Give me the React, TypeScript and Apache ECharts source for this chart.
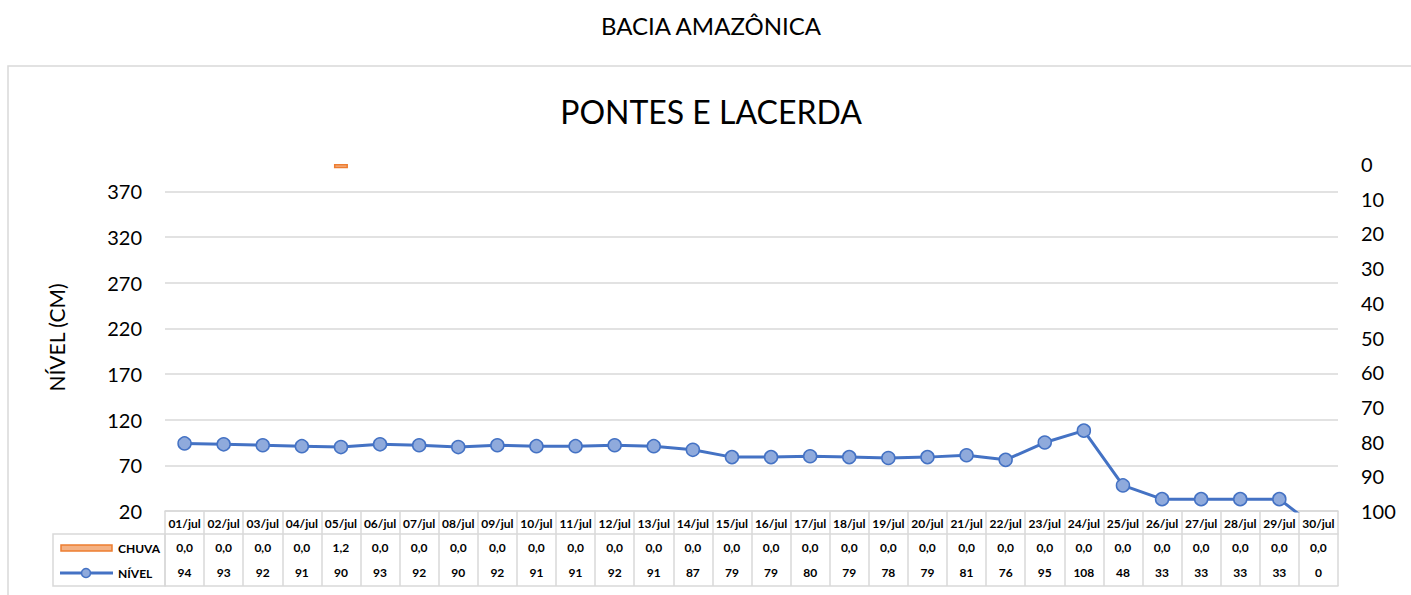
import React, { useEffect, useRef } from "react";
import * as echarts from "echarts";

const dates = [
  "01/jul", "02/jul", "03/jul", "04/jul", "05/jul", "06/jul", "07/jul", "08/jul", "09/jul", "10/jul",
  "11/jul", "12/jul", "13/jul", "14/jul", "15/jul", "16/jul", "17/jul", "18/jul", "19/jul", "20/jul",
  "21/jul", "22/jul", "23/jul", "24/jul", "25/jul", "26/jul", "27/jul", "28/jul", "29/jul", "30/jul",
];
const chuva = [0, 0, 0, 0, 1.2, 0, 0, 0, 0, 0, 0, 0, 0, 0, 0, 0, 0, 0, 0, 0, 0, 0, 0, 0, 0, 0, 0, 0, 0, 0];
const nivel = [94, 93, 92, 91, 90, 93, 92, 90, 92, 91, 91, 92, 91, 87, 79, 79, 80, 79, 78, 79, 81, 76, 95, 108, 48, 33, 33, 33, 33, 0];

const leftMin = 20;
const leftMax = 400;
const leftStep = 50;
const rightMin = 0;
const rightMax = 100;
const rightStep = 10;

const FONT = "Lato, 'Open Sans', sans-serif";
const GRID = "#D9D9D9";

const fmtChuva = (v: number) => v.toFixed(1).replace(".", ",");

export default function App() {
  const ref = useRef<HTMLDivElement>(null);
  useEffect(() => {
    if (!ref.current) return;
    const chart = echarts.init(ref.current, undefined, { renderer: "svg" });
    const tableLabel = {
      interval: 0,
      fontSize: 12,
      fontWeight: "bold" as const,
      color: "#000",
      fontFamily: FONT,
    };
    const baseX = {
      type: "category",
      data: dates,
      position: "bottom",
    };
    chart.setOption({
      animation: false,
      backgroundColor: "#fff",
      textStyle: { fontFamily: FONT },
      grid: { left: 165, right: 73, top: 164, bottom: 84, containLabel: false },
      xAxis: [
        {
          ...baseX,
          axisLine: { show: true, onZero: false, lineStyle: { color: GRID, width: 1.5 } },
          axisTick: { show: true, interval: 0, length: 75, alignWithLabel: false, lineStyle: { color: GRID, width: 1.5 } },
          axisLabel: { ...tableLabel, margin: 6 },
        },
        {
          ...baseX,
          offset: 23,
          axisLine: { show: true, onZero: false, lineStyle: { color: GRID, width: 1.5 } },
          axisTick: { show: false },
          axisLabel: { ...tableLabel, margin: 7, formatter: (_v: string, i: number) => fmtChuva(chuva[i]) },
        },
        {
          ...baseX,
          offset: 46,
          axisLine: { show: false, onZero: false },
          axisTick: { show: false },
          axisLabel: { ...tableLabel, margin: 9, formatter: (_v: string, i: number) => String(nivel[i]) },
        },
        {
          ...baseX,
          offset: 75,
          axisLine: { show: true, onZero: false, lineStyle: { color: GRID, width: 1.5 } },
          axisTick: { show: false },
          axisLabel: { show: false },
        },
      ],
      yAxis: [
        {
          type: "value",
          position: "left",
          min: leftMin,
          max: leftMax,
          interval: leftStep,
          name: "NÍVEL (CM)",
          nameLocation: "middle",
          nameGap: 98,
          nameTextStyle: { fontSize: 21, color: "#000", fontFamily: FONT },
          axisLine: { show: false },
          axisTick: { show: false },
          axisLabel: { margin: 23, fontSize: 20, color: "#000", fontFamily: FONT, showMaxLabel: false },
          splitLine: { show: true, showMaxLine: false, lineStyle: { color: GRID, width: 1.5 } },
        },
        {
          type: "value",
          position: "right",
          inverse: true,
          min: rightMin,
          max: rightMax,
          interval: rightStep,
          axisLine: { show: false },
          axisTick: { show: false },
          axisLabel: { margin: 23, fontSize: 20, color: "#000", fontFamily: FONT },
          splitLine: { show: false },
        },
      ],
      series: [
        {
          name: "CHUVA",
          type: "bar",
          xAxisIndex: 0,
          yAxisIndex: 1,
          data: chuva.map((v) => (v === 0 ? "-" : v)),
          barWidth: 14,
          itemStyle: { color: "#F4B183", borderColor: "#ED7D31", borderWidth: 1.5 },
        },
        {
          name: "NÍVEL",
          type: "line",
          xAxisIndex: 0,
          yAxisIndex: 0,
          data: nivel,
          clip: true,
          symbol: "circle",
          symbolSize: 13,
          lineStyle: { color: "#4472C4", width: 3 },
          itemStyle: { color: "#8FAADC", borderColor: "#4472C4", borderWidth: 1.5 },
        },
      ],
      graphic: [
        {
          type: "rect",
          shape: { x: 8, y: 66, width: 1420, height: 600 },
          style: { fill: "none", stroke: GRID, lineWidth: 1.5 },
          silent: true,
        },
        {
          type: "text",
          x: 711,
          y: 25,
          style: { text: "BACIA AMAZÔNICA", fontSize: 24, fontFamily: FONT, fill: "#000", textAlign: "center", textVerticalAlign: "middle" },
        },
        {
          type: "text",
          x: 711,
          y: 111,
          style: { text: "PONTES E LACERDA", fontSize: 32, fontFamily: FONT, fill: "#000", textAlign: "center", textVerticalAlign: "middle" },
        },
        {
          type: "rect",
          shape: { x: 53, y: 534, width: 112, height: 52 },
          style: { fill: "none", stroke: GRID, lineWidth: 1.5 },
          silent: true,
        },
        {
          type: "rect",
          shape: { x: 61, y: 545, width: 51, height: 6 },
          style: { fill: "#F4B183", stroke: "#ED7D31", lineWidth: 1.5 },
        },
        {
          type: "text",
          x: 118,
          y: 548,
          style: { text: "CHUVA", fontSize: 12, fontWeight: "bold", fontFamily: FONT, fill: "#000", textVerticalAlign: "middle" },
        },
        {
          type: "line",
          shape: { x1: 60, y1: 573, x2: 113, y2: 573 },
          style: { stroke: "#4472C4", lineWidth: 3 },
        },
        {
          type: "circle",
          shape: { cx: 86, cy: 573, r: 4.5 },
          style: { fill: "#8FAADC", stroke: "#4472C4", lineWidth: 1.5 },
        },
        {
          type: "text",
          x: 118,
          y: 573,
          style: { text: "NÍVEL", fontSize: 12, fontWeight: "bold", fontFamily: FONT, fill: "#000", textVerticalAlign: "middle" },
        },
      ],
    });
    return () => chart.dispose();
  }, []);
  return (
    <div
      ref={ref}
      style={{ position: "fixed", left: 0, top: 0, width: 1411, height: 595 }}
    />
  );
}
